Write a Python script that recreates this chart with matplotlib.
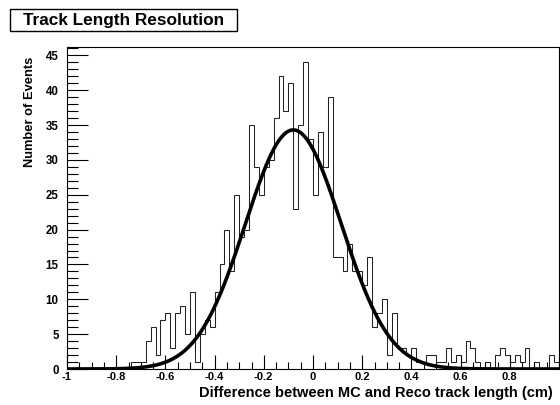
import numpy as np
import matplotlib
matplotlib.use("Agg")
import matplotlib.pyplot as plt
from matplotlib.ticker import MultipleLocator
from matplotlib.patches import Rectangle

# ---- data ----
x_min, x_max, n_bins = -1.0, 1.0, 100
counts = [0, 0, 0, 0, 0, 0, 0, 0, 0, 0,
          0, 0, 0, 1, 1, 1, 4, 6, 2, 7,
          8, 3, 8, 9, 5, 11, 1, 5, 7, 6,
          11, 15, 20, 14, 25, 19, 20, 35, 29, 25,
          29, 30, 36, 42, 37, 41, 23, 35, 44, 33,
          25, 34, 29, 39, 16, 16, 14, 18, 14, 14,
          12, 16, 6, 8, 10, 2, 8, 3, 3, 2,
          3, 1, 1, 2, 2, 1, 1, 3, 1, 2,
          1, 4, 3, 1, 0, 1, 0, 2, 3, 2,
          1, 2, 1, 3, 0, 1, 0, 0, 2, 1]
fit_amp, fit_mean, fit_sigma = 34.3, -0.08, 0.195
title = "Track Length Resolution"
xlabel = "Difference between MC and Reco track length (cm)"
ylabel = "Number of Events"

plt.rcParams['font.family'] = ['Liberation Sans', 'DejaVu Sans']
plt.rcParams['font.weight'] = 'bold'

W, H = 560, 405
fig = plt.figure(figsize=(W/100, H/100), dpi=100)
ax = fig.add_axes([67/W, 36/H, 492/W, 322/H])

edges = np.linspace(x_min, x_max, n_bins + 1)
ax.stairs(counts, edges, color='#222222', lw=0.75)

xf = np.linspace(x_min, x_max, 800)
yf = fit_amp * np.exp(-0.5 * ((xf - fit_mean) / fit_sigma) ** 2)
ax.plot(xf, yf, color='black', lw=2.6)

ax.set_xlim(x_min, x_max)
ax.set_ylim(0, 1.05 * max(counts))

ax.xaxis.set_major_locator(MultipleLocator(0.2))
ax.xaxis.set_minor_locator(MultipleLocator(0.05))
ax.yaxis.set_major_locator(MultipleLocator(5))
ax.yaxis.set_minor_locator(MultipleLocator(1))
ax.tick_params(axis='x', which='major', direction='in', length=10, width=0.8, labelsize=8, pad=2)
ax.tick_params(axis='x', which='minor', direction='in', length=5, width=0.8)
ax.tick_params(axis='y', which='major', direction='in', length=15, width=0.8, labelsize=8.3, pad=6)
ax.tick_params(axis='y', which='minor', direction='in', length=8, width=0.8)

def fmt(v, p):
    if v > 0.99:
        return ""
    return "%g" % round(v, 2)
ax.xaxis.set_major_formatter(plt.FuncFormatter(fmt))

for sp in ax.spines.values():
    sp.set_linewidth(0.8)

ax.set_xlabel(xlabel, fontsize=10.5, fontweight='bold', loc='right')
ax.xaxis.set_label_coords((553 - 67) / 492, (369 - 386) / 322)
ax.set_ylabel(ylabel, fontsize=9.3, fontweight='bold', loc='top')
ax.yaxis.set_label_coords((36 - 67) / 492, (369 - 57) / 322)

fig.patches.append(Rectangle((10/W, 1 - 31/H), 227/W, 22/H, transform=fig.transFigure,
                             facecolor='white', edgecolor='black', lw=1.0))
fig.text(123.5/W, 1 - 20/H, title, fontsize=12.4, fontweight='bold', va='center', ha='center')

fig.savefig("out.png", dpi=100)
